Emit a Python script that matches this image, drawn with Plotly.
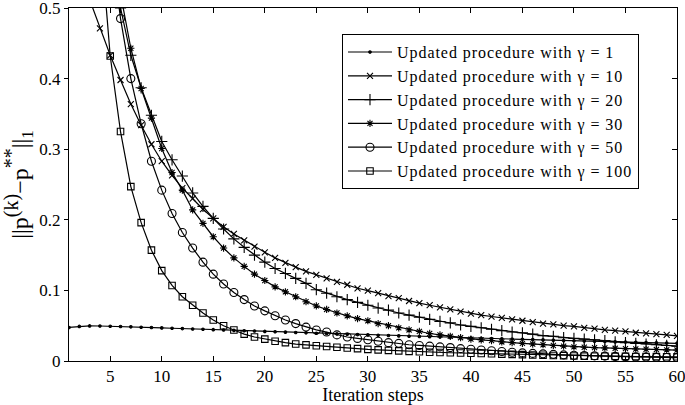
import plotly.graph_objects as go

steps = list(range(1, 61))

g1 = [0.0475, 0.0490, 0.0497, 0.0496, 0.0493, 0.0489, 0.0484, 0.0479, 0.0474, 0.0469,
      0.0464, 0.0459, 0.0454, 0.0449, 0.0444, 0.0439, 0.0434, 0.0429, 0.0424, 0.0419,
      0.0414, 0.0409, 0.0404, 0.0399, 0.0394, 0.0389, 0.0384, 0.0379, 0.0374, 0.0370,
      0.0365, 0.0361, 0.0356, 0.0352, 0.0347, 0.0343, 0.0339, 0.0335, 0.0331, 0.0327,
      0.0323, 0.0319, 0.0315, 0.0311, 0.0307, 0.0303, 0.0299, 0.0295, 0.0291, 0.0287,
      0.0283, 0.0279, 0.0275, 0.0271, 0.0268, 0.0264, 0.0261, 0.0257, 0.0254, 0.0250]

g10 = [0.605, 0.556, 0.512, 0.471, 0.433, 0.398, 0.364, 0.334, 0.307, 0.283,
       0.263, 0.245, 0.230, 0.215, 0.202, 0.190, 0.180, 0.171, 0.162, 0.154,
       0.146, 0.139, 0.133, 0.127, 0.122, 0.117, 0.112, 0.108, 0.103, 0.0996,
       0.096, 0.092, 0.089, 0.085, 0.082, 0.079, 0.076, 0.073, 0.070, 0.067,
       0.065, 0.063, 0.061, 0.059, 0.057, 0.055, 0.053, 0.052, 0.050, 0.049,
       0.047, 0.046, 0.044, 0.043, 0.042, 0.040, 0.039, 0.038, 0.037, 0.0355]

g20 = [1.20, 1.00, 0.82, 0.68, 0.58, 0.500, 0.433, 0.387, 0.348, 0.311,
       0.285, 0.262, 0.238, 0.219, 0.202, 0.187, 0.173, 0.161, 0.150, 0.140,
       0.131, 0.124, 0.117, 0.110, 0.101, 0.096, 0.091, 0.087, 0.083, 0.079,
       0.075, 0.072, 0.068, 0.065, 0.062, 0.059, 0.056, 0.054, 0.051, 0.049,
       0.047, 0.045, 0.043, 0.041, 0.040, 0.038, 0.036, 0.035, 0.033, 0.032,
       0.031, 0.030, 0.029, 0.027, 0.026, 0.025, 0.024, 0.023, 0.022, 0.021]

g30 = [1.35, 1.10, 0.92, 0.75, 0.62, 0.520, 0.443, 0.386, 0.344, 0.301,
       0.267, 0.242, 0.214, 0.195, 0.176, 0.160, 0.146, 0.134, 0.123, 0.114,
       0.105, 0.098, 0.091, 0.084, 0.078, 0.073, 0.068, 0.064, 0.060, 0.057,
       0.053, 0.050, 0.047, 0.044, 0.042, 0.039, 0.037, 0.035, 0.033, 0.031,
       0.030, 0.029, 0.027, 0.026, 0.025, 0.024, 0.023, 0.022, 0.021, 0.020,
       0.0195, 0.019, 0.0185, 0.018, 0.0175, 0.017, 0.0166, 0.0162, 0.0158, 0.0155]

g50 = [1.45, 1.15, 0.92, 0.74, 0.60, 0.485, 0.400, 0.336, 0.283, 0.242,
       0.209, 0.182, 0.160, 0.140, 0.123, 0.109, 0.097, 0.087, 0.078, 0.071,
       0.064, 0.058, 0.053, 0.048, 0.044, 0.041, 0.037, 0.034, 0.032, 0.030,
       0.028, 0.026, 0.025, 0.023, 0.022, 0.021, 0.020, 0.019, 0.0175, 0.0166,
       0.0155, 0.0145, 0.0135, 0.0125, 0.0115, 0.0108, 0.0101, 0.0094, 0.0087, 0.0081,
       0.0077, 0.0073, 0.0069, 0.0065, 0.0061, 0.0058, 0.0055, 0.0052, 0.0049, 0.0047]

g100 = [1.70, 1.25, 0.90, 0.61, 0.432, 0.325, 0.247, 0.196, 0.157, 0.128,
        0.107, 0.091, 0.079, 0.068, 0.058, 0.050, 0.044, 0.038, 0.034, 0.031,
        0.028, 0.026, 0.024, 0.0228, 0.0217, 0.0206, 0.0195, 0.0185, 0.0175, 0.0165,
        0.0158, 0.0151, 0.0144, 0.0137, 0.0130, 0.0125, 0.0121, 0.0117, 0.0113, 0.0110,
        0.0106, 0.0102, 0.0098, 0.0094, 0.0090, 0.0086, 0.0082, 0.0078, 0.0074, 0.0070,
        0.0069, 0.0068, 0.0067, 0.0066, 0.0065, 0.0064, 0.0063, 0.0062, 0.0061, 0.0060]

labels = ["Updated procedure with γ = 1", "Updated procedure with γ = 10",
          "Updated procedure with γ = 20", "Updated procedure with γ = 30",
          "Updated procedure with γ = 50", "Updated procedure with γ = 100"]
series = [g1, g10, g20, g30, g50, g100]
symbols = ["circle", "x-thin-open", "cross-thin-open", "asterisk-open", "circle-open", "square-open"]
sizes = [2.5, 6, 8, 6, 8, 6.5]

FONT = "Liberation Serif"
fig = go.Figure()
for lab, ys, sym, sz in zip(labels, series, symbols, sizes):
    fig.add_trace(go.Scatter(
        x=steps, y=ys, mode="lines+markers",
        name="<span style='letter-spacing:0.95px'>" + lab + "</span>",
        line=dict(color="black", width=1.2),
        marker=dict(symbol=sym, size=sz, color="black",
                    line=dict(color="black", width=1.1)),
    ))

# invisible trace to carry the right-hand axis ticks
fig.add_trace(go.Scatter(x=[1], y=[0], yaxis="y2", mode="markers",
                         marker=dict(opacity=0), showlegend=False, hoverinfo="skip"))

ytitle = ("||p<sup><span style='font-size:20px'>(k)</span></sup>−"
          "p<sup><span style='font-size:20px'>**</span></sup>||"
          "<sub><span style='font-size:17px'>1</span></sub>")

fig.update_layout(
    width=685, height=405,
    margin=dict(l=69, r=8, t=8, b=44),
    paper_bgcolor="white", plot_bgcolor="white",
    font=dict(family=FONT, size=17, color="black"),
    showlegend=True,
    legend=dict(x=0.449, y=0.926, xanchor="left", yanchor="top",
                bordercolor="black", borderwidth=1, bgcolor="white",
                font=dict(family=FONT, size=16), tracegroupgap=0,
                itemwidth=44, itemclick=False),
    xaxis=dict(range=[1, 60], tickvals=[5, 10, 15, 20, 25, 30, 35, 40, 45, 50, 55, 60],
               ticks="inside", ticklen=5, tickcolor="black", mirror="ticks",
               showline=True, linecolor="black", linewidth=1, showgrid=False, zeroline=False,
               tickfont=dict(size=17), automargin=False, ticklabeloverflow="allow",
               title=dict(text="Iteration steps", standoff=0, font=dict(size=18))),
    yaxis=dict(range=[0, 0.5], tickvals=[0, 0.1, 0.2, 0.3, 0.4, 0.5],
               ticktext=["0", "0.1", "0.2", "0.3", "0.4", "0.5"],
               ticks="outside", ticklen=4, tickcolor="black", mirror=True,
               showline=True, linecolor="black", linewidth=1, showgrid=False, zeroline=False,
               tickfont=dict(size=17), ticklabeloverflow="allow", automargin=False,
               title=dict(text=ytitle, standoff=4, font=dict(size=24))),
    yaxis2=dict(range=[0, 0.5], overlaying="y", side="right", tickvals=[0.1, 0.2, 0.3, 0.4],
                showticklabels=False, ticks="inside", ticklen=5, tickcolor="black",
                showgrid=False, zeroline=False, showline=False, automargin=False),
)

fig.write_html("out.html", config={"displayModeBar": False},
               post_script="document.body.style.margin='0px';")
